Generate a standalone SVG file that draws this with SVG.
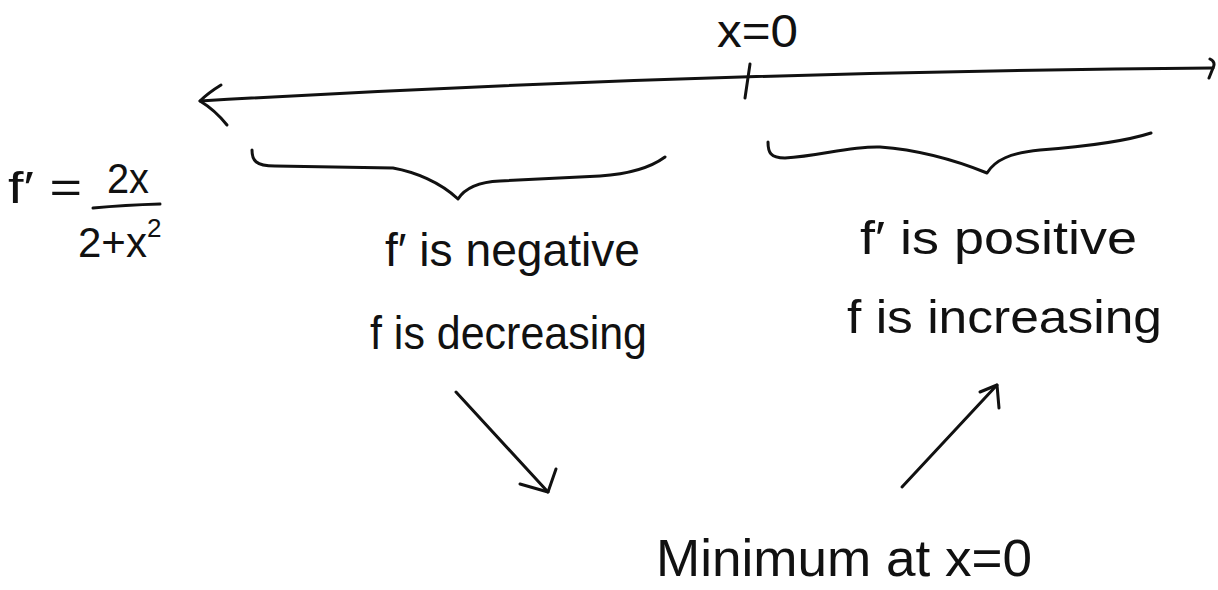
<svg xmlns="http://www.w3.org/2000/svg" width="1218" height="590" viewBox="0 0 1218 590">
  <style>
    .ink { fill: none; stroke: #111; stroke-width: 3; stroke-linecap: round; stroke-linejoin: round; }
    .hand { font-family: "Liberation Sans", "DejaVu Sans", sans-serif; fill: #111; }
  </style>
  <rect width="1218" height="590" fill="#ffffff"/>

  <g id="number-line">
    <path class="ink" d="M200,101 Q700,72 1213,68"/>
    <path class="ink" d="M221,85 Q208,93 200,101 Q215,110 227,125"/>
    <path class="ink" d="M1210,59 Q1216,62 1213,68 L1209,78"/>
    <path class="ink" d="M750,64 L745,98"/>
  </g>

  <g id="label-x0">
    <text class="hand" x="717" y="47" font-size="46" textLength="81" lengthAdjust="spacingAndGlyphs">x=0</text>
  </g>

  <g id="formula">
    <text class="hand" x="8" y="203" font-size="44" textLength="74" lengthAdjust="spacingAndGlyphs">f′ =</text>
    <text class="hand" x="107" y="193" font-size="42" textLength="42" lengthAdjust="spacingAndGlyphs">2x</text>
    <path class="ink" d="M93,208 Q125,205 160,204"/>
    <text class="hand" x="78" y="257" font-size="42">2+x<tspan dy="-20" font-size="26">2</tspan></text>
  </g>

  <g id="brace-left">
    <path class="ink" d="M252,150 C252,160 255,166 275,166 L393,168 C415,172 440,182 458,199 C465,188 478,182 500,181 L600,176 C630,174 650,168 665,157"/>
  </g>

  <g id="brace-right">
    <path class="ink" d="M768,142 C768,152 770,158 785,158 C820,156 850,146 880,147 C920,150 955,160 987,173 C995,160 1010,153 1040,150 C1080,147 1120,143 1151,133"/>
  </g>

  <g id="node-negative">
    <text class="hand" x="385" y="266" font-size="46" textLength="255" lengthAdjust="spacingAndGlyphs">f′ is negative</text>
    <text class="hand" x="370" y="349" font-size="46" textLength="277" lengthAdjust="spacingAndGlyphs">f is decreasing</text>
  </g>

  <g id="node-positive">
    <text class="hand" x="860" y="254" font-size="46" textLength="277" lengthAdjust="spacingAndGlyphs">f′ is positive</text>
    <text class="hand" x="847" y="333" font-size="46" textLength="315" lengthAdjust="spacingAndGlyphs">f is increasing</text>
  </g>

  <g id="node-minimum">
    <text class="hand" x="656" y="576" font-size="52" textLength="376" lengthAdjust="spacingAndGlyphs">Minimum at x=0</text>
  </g>

  <g id="connectors">
    <path class="ink" d="M456,392 L548,492"/>
    <path class="ink" d="M520,484 L548,492 L556,469"/>
    <path class="ink" d="M902,487 L997,385"/>
    <path class="ink" d="M980,392 L997,385 L999,408"/>
  </g>
</svg>
